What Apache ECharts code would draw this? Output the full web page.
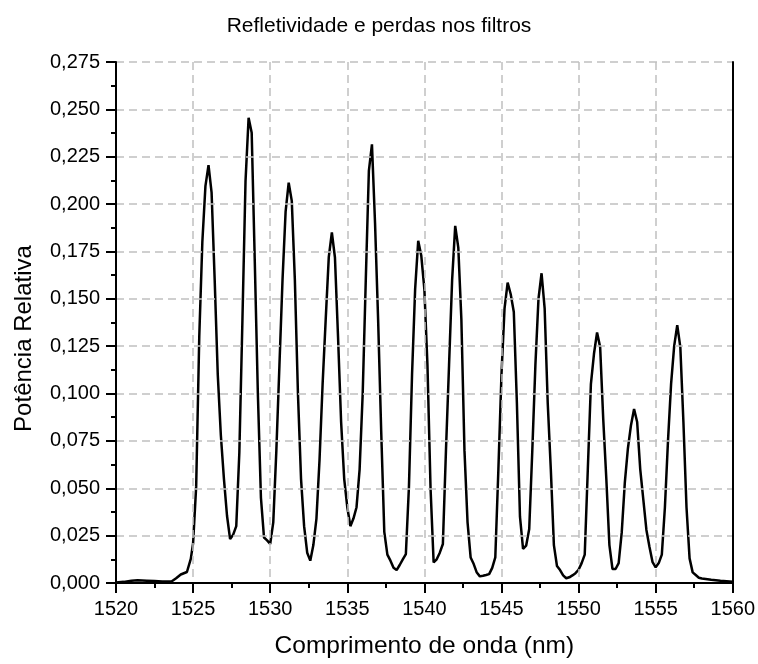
<!DOCTYPE html>
<html style="height: 100%">
   <head>
       <meta charset="utf-8">
   </head>
   <body style="height: 100%; margin: 0">
       <div id="container" style="width: 758px; height: 664px"></div>
       <script type="text/javascript" src="https://cdn.jsdelivr.net/npm/echarts@6/dist/echarts.min.js"></script>
       <script type="text/javascript">
// comprimento de onda (nm)
var wavelengths = [
    1520.0, 1520.5, 1521.0, 1521.4, 1522.0, 1522.5, 1523.0, 1523.6, 1523.9, 1524.2,
    1524.6, 1524.85, 1525.0, 1525.2, 1525.4, 1525.6, 1525.8, 1526.0, 1526.2, 1526.4,
    1526.6, 1526.8, 1527.0, 1527.2, 1527.4, 1527.6, 1527.8, 1528.0, 1528.2, 1528.4,
    1528.6, 1528.8, 1529.0, 1529.2, 1529.4, 1529.6, 1529.8, 1530.0, 1530.2, 1530.4,
    1530.6, 1530.8, 1531.0, 1531.2, 1531.4, 1531.6, 1531.8, 1532.0, 1532.2, 1532.4,
    1532.6, 1532.8, 1533.0, 1533.2, 1533.4, 1533.6, 1533.8, 1534.0, 1534.2, 1534.4,
    1534.6, 1534.8, 1535.0, 1535.2, 1535.4, 1535.6, 1535.8, 1536.0, 1536.2, 1536.4,
    1536.6, 1536.8, 1537.0, 1537.2, 1537.4, 1537.6, 1537.8, 1538.0, 1538.2, 1538.4,
    1538.6, 1538.8, 1539.0, 1539.2, 1539.4, 1539.6, 1539.8, 1540.0, 1540.2, 1540.4,
    1540.6, 1540.8, 1541.0, 1541.2, 1541.4, 1541.6, 1541.8, 1542.0, 1542.2, 1542.4,
    1542.6, 1542.8, 1543.0, 1543.2, 1543.4, 1543.6, 1543.8, 1544.0, 1544.2, 1544.4,
    1544.6, 1544.8, 1545.0, 1545.2, 1545.4, 1545.6, 1545.8, 1546.0, 1546.2, 1546.4,
    1546.6, 1546.8, 1547.0, 1547.2, 1547.4, 1547.6, 1547.8, 1548.0, 1548.2, 1548.4,
    1548.6, 1548.8, 1549.0, 1549.2, 1549.4, 1549.6, 1549.8, 1550.0, 1550.2, 1550.4,
    1550.6, 1550.8, 1551.0, 1551.2, 1551.4, 1551.6, 1551.8, 1552.0, 1552.2, 1552.4,
    1552.6, 1552.8, 1553.0, 1553.2, 1553.4, 1553.6, 1553.8, 1554.0, 1554.2, 1554.4,
    1554.6, 1554.8, 1555.0, 1555.2, 1555.4, 1555.6, 1555.8, 1556.0, 1556.2, 1556.4,
    1556.6, 1556.8, 1557.0, 1557.2, 1557.4, 1557.6, 1557.8, 1558.0, 1558.6, 1559.2,
    1560.0
];
// potencia relativa
var power = [
    0.0003, 0.0006, 0.0012, 0.0014, 0.0012, 0.0010, 0.0008, 0.0008, 0.0025, 0.0045,
    0.0058, 0.0127, 0.021, 0.051, 0.130, 0.180, 0.2095, 0.2206, 0.206, 0.160,
    0.110, 0.078, 0.055, 0.0355, 0.0232, 0.0255, 0.030, 0.069, 0.139, 0.212,
    0.2456, 0.2377, 0.170, 0.100, 0.045, 0.024, 0.0225, 0.0206, 0.032, 0.070,
    0.115, 0.160, 0.196, 0.2113, 0.2017, 0.160, 0.100, 0.055, 0.030, 0.0160,
    0.0118, 0.020, 0.034, 0.065, 0.105, 0.139, 0.172, 0.185, 0.1718, 0.130,
    0.085, 0.055, 0.040, 0.030, 0.034, 0.040, 0.060, 0.100, 0.160, 0.2175,
    0.2315, 0.190, 0.139, 0.080, 0.027, 0.015, 0.0118, 0.008, 0.0068, 0.0095,
    0.0125, 0.0153, 0.051, 0.110, 0.155, 0.1806, 0.1727, 0.155, 0.115, 0.050,
    0.0109, 0.0125, 0.016, 0.0206, 0.070, 0.115, 0.160, 0.1885, 0.177, 0.139,
    0.070, 0.032, 0.0135, 0.010, 0.0055, 0.0035, 0.0038, 0.0042, 0.0047, 0.008,
    0.0135, 0.060, 0.110, 0.145, 0.1586, 0.1524, 0.143, 0.095, 0.035, 0.018,
    0.0197, 0.0285, 0.070, 0.115, 0.150, 0.1635, 0.145, 0.095, 0.060, 0.020,
    0.009, 0.0068, 0.004, 0.0025, 0.003, 0.004, 0.0052, 0.007, 0.0105, 0.015,
    0.060, 0.105, 0.121, 0.1322, 0.1245, 0.0865, 0.055, 0.020, 0.0074, 0.0074,
    0.0105, 0.0267, 0.053, 0.071, 0.0833, 0.0918, 0.085, 0.060, 0.044, 0.028,
    0.019, 0.011, 0.0083, 0.0105, 0.0150, 0.040, 0.075, 0.105, 0.125, 0.1361,
    0.1245, 0.085, 0.040, 0.013, 0.0056, 0.0042, 0.0028, 0.0024, 0.0017, 0.0012,
    0.0007
];

var dom = document.getElementById("container");
var myChart = echarts.init(dom);

var serie = [];
for (var i = 0; i < wavelengths.length; i++) {
    serie.push([wavelengths[i], power[i]]);
}

var fonte = 'Liberation Sans, Arial, sans-serif';
var grade = { show: true, lineStyle: { color: '#c0c0c0', width: 1.5, type: [8, 5] } };
var borda = { show: true, lineStyle: { color: '#000', width: 2 } };

var option = {
    backgroundColor: '#fff',
    animation: false,
    title: {
        text: 'Refletividade e perdas nos filtros',
        left: 'center',
        top: 11,
        textStyle: { fontFamily: fonte, fontSize: 21, fontWeight: 'normal', color: '#000' }
    },
    grid: {
        left: 116,
        right: 23,
        top: 62,
        bottom: 80
    },
    xAxis: [
        {
            type: 'value',
            min: 1520,
            max: 1560,
            interval: 5,
            z: 5,
            name: 'Comprimento de onda (nm)',
            nameLocation: 'middle',
            nameGap: 51,
            nameTextStyle: { fontFamily: fonte, fontSize: 24.5, color: '#000' },
            axisLine: borda,
            axisTick: { inside: false, length: 10, lineStyle: { color: '#000', width: 2 } },
            minorTick: { show: true, splitNumber: 2, length: 5, lineStyle: { color: '#000', width: 2 } },
            axisLabel: {
                margin: 16,
                fontFamily: fonte,
                fontSize: 20,
                color: '#000',
                formatter: function (v) { return String(v); }
            },
            splitLine: grade
        },
        {
            type: 'value',
            position: 'top',
            min: 1520,
            max: 1560,
            z: 5,
            axisLine: borda,
            axisTick: { show: false },
            axisLabel: { show: false },
            splitLine: { show: false }
        }
    ],
    yAxis: [
        {
            type: 'value',
            min: 0,
            max: 0.275,
            interval: 0.025,
            z: 5,
            name: 'Potência Relativa',
            nameLocation: 'middle',
            nameGap: 80,
            nameTextStyle: { fontFamily: fonte, fontSize: 24, color: '#000', padding: [0, 32, 0, 0] },
            axisLine: borda,
            axisTick: { show: true, inside: false, length: 10, lineStyle: { color: '#000', width: 2 } },
            minorTick: { show: true, splitNumber: 2, length: 5, lineStyle: { color: '#000', width: 2 } },
            axisLabel: {
                margin: 16,
                fontFamily: fonte,
                fontSize: 20,
                color: '#000',
                formatter: function (v) { return v.toFixed(3).replace('.', ','); }
            },
            splitLine: grade
        },
        {
            type: 'value',
            position: 'right',
            min: 0,
            max: 0.275,
            z: 5,
            axisLine: borda,
            axisTick: { show: false },
            axisLabel: { show: false },
            splitLine: { show: false }
        }
    ],
    series: [
        {
            type: 'line',
            data: serie,
            symbol: 'none',
            lineStyle: { color: '#000', width: 2.5 }
        }
    ]
};

myChart.setOption(option);
       </script>
   </body>
</html>
